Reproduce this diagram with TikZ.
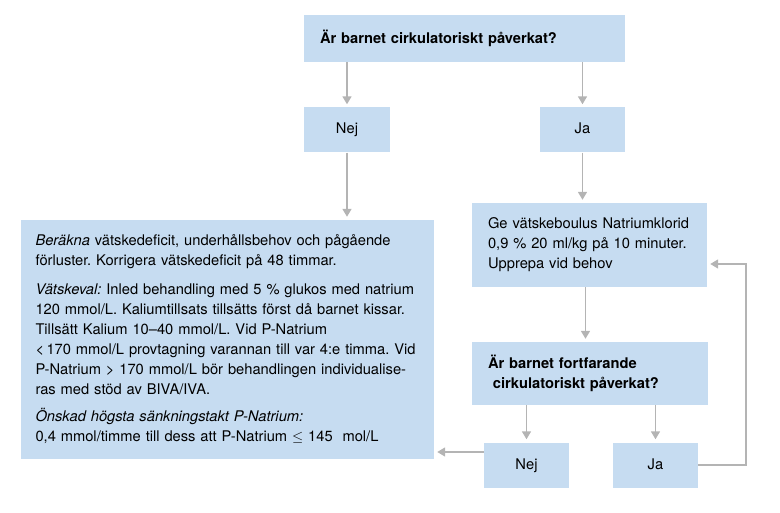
\documentclass[tikz,border=0pt]{standalone}
\usepackage{fontspec}
\setmainfont{TeX Gyre Heros}
\usetikzlibrary{positioning}
\usetikzlibrary{arrows.meta}
\usepackage{xcolor}
\definecolor{boxblue}{HTML}{C6DCF1}
\definecolor{arrowgray}{HTML}{B4B4B4}
\frenchspacing

\begin{document}
\begin{tikzpicture}[x=1pt, y=-1pt,
    box/.style={rectangle, fill=boxblue, inner xsep=16pt, inner ysep=0pt,
        font=\fontsize{14.7}{20}\selectfont},
    answer/.style={box, align=center, minimum width=85pt, minimum height=45pt,
        text height=11pt, text depth=3pt},
    conn/.style={-{Triangle[length=8pt,width=9pt]}, line width=1.6pt, draw=arrowgray,
        shorten >=3pt}]
            \useasboundingbox (0,0) rectangle (780,513);

            \node[box, minimum height=47pt, text width=289pt, align=left] (fraga) at (464.5,38.5) {\bfseries Är barnet cirkulatoriskt påverkat?};
            \node[answer, minimum width=86pt] (nejTop) at (347,130) {Nej};
            \node[answer] (jaTop) at (582.5,130) {Ja};

            \node[box, inner xsep=14.5pt, minimum height=239pt, text width=384pt, align=left] (behandling) at (227.5,339.5) {\textit{Beräkna} vätskedeficit, underhållsbehov och pågående\\
förluster. Korrigera vätskedeficit på 48 timmar.\\[9pt]
\textit{Vätskeval:} Inled behandling med 5 \% glukos med natrium\\
120 mmol/L. Kaliumtillsats tillsätts först då barnet kissar.\\
Tillsätt Kalium 10--40 mmol/L. Vid P-Natrium\\
<\,170 mmol/L provtagning varannan till var 4:e timma. Vid\\
P-Natrium > 170 mmol/L bör behandlingen individualise-\\
ras med stöd av BIVA/IVA.\\[7pt]
\textit{Önskad högsta sänkningstakt P-Natrium:}\\
0,4 mmol/timme till dess att P-Natrium ${\leq}$ 145\ \ mol/L};

            \node[box, minimum height=84pt, text width=203pt, align=left] (bolus) at (589.5,245) {Ge vätskeboulus Natriumklorid\\0,9 \% 20 ml/kg på 10 minuter.\\Upprepa vid behov};
            \node[box, minimum height=63pt, text width=204pt, align=left] (fraga2) at (590,373.5) {\bfseries Är barnet fortfarande\\\ cirkulatoriskt påverkat?};
            \node[answer] (nejBot) at (526.5,465) {Nej};
            \node[answer] (jaBot) at (655.5,465) {Ja};
            \coordinate (loop) at (746,264);

            % pilar
            \draw[conn] (nejTop |- fraga.south) -- (nejTop);
            \draw[conn] (jaTop |- fraga.south) -- (jaTop);
            \draw[conn] (nejTop) -- (nejTop |- behandling.north);
            \draw[conn] (jaTop) -- (jaTop |- bolus.north);
            \draw[conn] ([xshift=-4pt]bolus.south) -- ([xshift=-4pt]bolus.south |- fraga2.north);
            \draw[conn] (nejBot |- fraga2.south) -- (nejBot);
            \draw[conn] (jaBot |- fraga2.south) -- (jaBot);
            \draw[conn] (jaBot.east) -| (loop) -- (loop -| bolus.east);
            \draw[conn] ([yshift=13pt]nejBot.west) -- ([yshift=13pt]nejBot.west -| behandling.east);
        \end{tikzpicture}
\end{document}
